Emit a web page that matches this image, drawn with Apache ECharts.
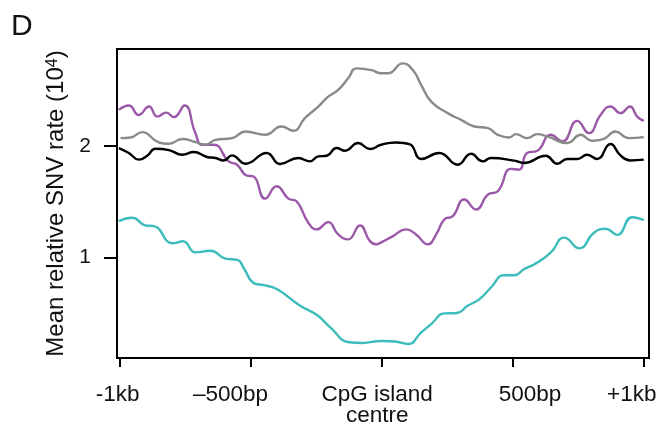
<!DOCTYPE html>
<html>
<head>
<meta charset="utf-8">
<script src="https://cdn.jsdelivr.net/npm/echarts@6/dist/echarts.min.js"></script>
<style>
  html, body { margin: 0; padding: 0; background: #fff; }
  #chart { width: 661px; height: 427px; }
</style>
</head>
<body>
<div id="chart"></div>
<script>
// distance from CpG island centre (bp) and mean relative SNV rate (x10^4)
const purplePos = [-1003, -965, -927, -888, -856, -822, -793, -752, -711, -685, -641, -584, -552, -514, -490, -445, -401, -356, -325, -280, -248, -204, -166, -128, -83, -45, -20, -2, 43, 93, 131, 176, 208, 239, 271, 315, 360, 405, 443, 493, 524, 555, 594, 645, 689, 746, 791, 835, 873, 911, 947, 975, 1000]
const purpleRate = [2.324, 2.363, 2.279, 2.354, 2.264, 2.3, 2.259, 2.363, 2.116, 2.012, 2.012, 1.863, 1.833, 1.735, 1.729, 1.529, 1.639, 1.529, 1.505, 1.313, 1.253, 1.318, 1.208, 1.163, 1.288, 1.148, 1.119, 1.137, 1.193, 1.253, 1.208, 1.119, 1.208, 1.342, 1.371, 1.521, 1.431, 1.565, 1.595, 1.795, 1.788, 1.938, 1.958, 2.101, 2.041, 2.226, 2.116, 2.279, 2.354, 2.295, 2.354, 2.264, 2.226]

const grayPos = [-996, -958, -914, -850, -812, -761, -711, -672, -634, -571, -520, -445, -382, -337, -293, -242, -204, -166, -128, -96, -39, -2, 24, 81, 119, 151, 189, 252, 303, 354, 405, 443, 487, 512, 555, 594, 632, 708, 759, 803, 848, 892, 943, 1000]
const grayRate = [2.071, 2.077, 2.125, 2.032, 2.021, 2.063, 2.036, 2.012, 2.056, 2.071, 2.13, 2.101, 2.175, 2.137, 2.25, 2.354, 2.443, 2.503, 2.607, 2.696, 2.681, 2.652, 2.652, 2.741, 2.681, 2.547, 2.398, 2.295, 2.235, 2.175, 2.161, 2.101, 2.077, 2.107, 2.071, 2.107, 2.086, 2.027, 2.101, 2.047, 2.065, 2.13, 2.071, 2.08]

const blackPos = [-1003, -965, -926, -895, -863, -812, -761, -717, -666, -634, -603, -571, -520, -439, -388, -318, -274, -242, -210, -172, -140, -90, -45, -2, 55, 106, 151, 220, 290, 341, 386, 417, 506, 543, 626, 670, 708, 746, 784, 822, 873, 911, 949, 1000]
const blackRate = [1.982, 1.938, 1.878, 1.913, 1.976, 1.964, 1.922, 1.946, 1.902, 1.893, 1.871, 1.916, 1.842, 1.938, 1.839, 1.893, 1.863, 1.907, 1.913, 1.982, 1.958, 2.027, 1.973, 2.012, 2.032, 2.018, 1.884, 1.938, 1.833, 1.931, 1.863, 1.893, 1.869, 1.848, 1.913, 1.842, 1.884, 1.884, 1.922, 1.884, 2.018, 1.916, 1.871, 1.878]

const tealPos = [-1003, -952, -901, -869, -798, -758, -711, -653, -596, -551, -524, -488, -450, -399, -311, -247, -196, -124, -74, -2, 51, 101, 151, 189, 240, 286, 328, 373, 417, 467, 505, 543, 587, 645, 697, 754, 810, 855, 899, 956, 1000]
const tealRate = [1.327, 1.357, 1.288, 1.282, 1.128, 1.146, 1.047, 1.061, 0.991, 0.98, 0.896, 0.771, 0.753, 0.717, 0.568, 0.485, 0.375, 0.241, 0.235, 0.253, 0.248, 0.226, 0.33, 0.404, 0.5, 0.503, 0.568, 0.628, 0.732, 0.842, 0.842, 0.896, 0.946, 1.045, 1.179, 1.083, 1.223, 1.259, 1.204, 1.362, 1.336]

const xTicks = [-1000, -500, 0, 500, 1000]
const xLabelAt = [-1008, -577, -17, 566, 954]
const xLabelText = ['-1kb', '\u2013500bp', 'CpG island\ncentre', '500bp', '+1kb']
const yTicks = [1, 2]

const zip = (xs, ys) => xs.map((x, i) => [x, ys[i]])

const line = (name, color, xs, ys) => ({
  name,
  type: 'line',
  data: zip(xs, ys),
  symbol: 'none',
  smooth: 0.5,
  lineStyle: { color, width: 2.4 },
})

const option = {
  animation: false,
  backgroundColor: '#fff',
  title: {
    text: 'D',
    left: 11,
    top: 12,
    padding: 0,
    textStyle: { fontFamily: 'Liberation Sans', fontSize: 30, fontWeight: 'normal', color: '#111' },
  },
  grid: {
    left: 117,
    right: 12,
    top: 49,
    bottom: 68,
    show: true,
    borderColor: '#000',
    borderWidth: 2,
  },
  xAxis: {
    type: 'value',
    min: -1010,
    max: 1020,
    splitLine: { show: false },
    axisLine: { show: true, onZero: false, lineStyle: { color: '#000', width: 2 } },
    axisTick: { show: true, customValues: xTicks, length: 9, lineStyle: { color: '#000', width: 2 } },
    axisLabel: {
      customValues: xLabelAt,
      formatter: (v) => xLabelText[xLabelAt.indexOf(v)] || '',
      margin: 26,
      fontFamily: 'Liberation Sans',
      fontSize: 22.5,
      lineHeight: 21,
      color: '#111',
    },
  },
  yAxis: {
    type: 'value',
    min: 0.1,
    max: 2.87,
    splitLine: { show: false },
    axisLine: { show: true, onZero: false, lineStyle: { color: '#000', width: 2 } },
    axisTick: { show: true, customValues: yTicks, length: 13, lineStyle: { color: '#000', width: 2 } },
    axisLabel: {
      customValues: yTicks,
      margin: 26,
      fontFamily: 'Liberation Sans',
      fontSize: 21,
      color: '#111',
    },
    name: 'Mean relative SNV rate (10{sup|4})',
    nameLocation: 'middle',
    nameGap: 47,
    nameTextStyle: {
      fontFamily: 'Liberation Sans',
      fontSize: 24,
      color: '#111',
      rich: {
        sup: { fontFamily: 'Liberation Sans', fontSize: 16, verticalAlign: 'top', color: '#111' },
      },
    },
  },
  series: [
    line('teal', '#3dbcbc', tealPos, tealRate),
    line('purple', '#9b58a8', purplePos, purpleRate),
    line('gray', '#8a8a8a', grayPos, grayRate),
    line('black', '#000', blackPos, blackRate),
  ],
}

const myChart = echarts.init(document.getElementById('chart'))
myChart.setOption(option)
</script>
</body>
</html>
